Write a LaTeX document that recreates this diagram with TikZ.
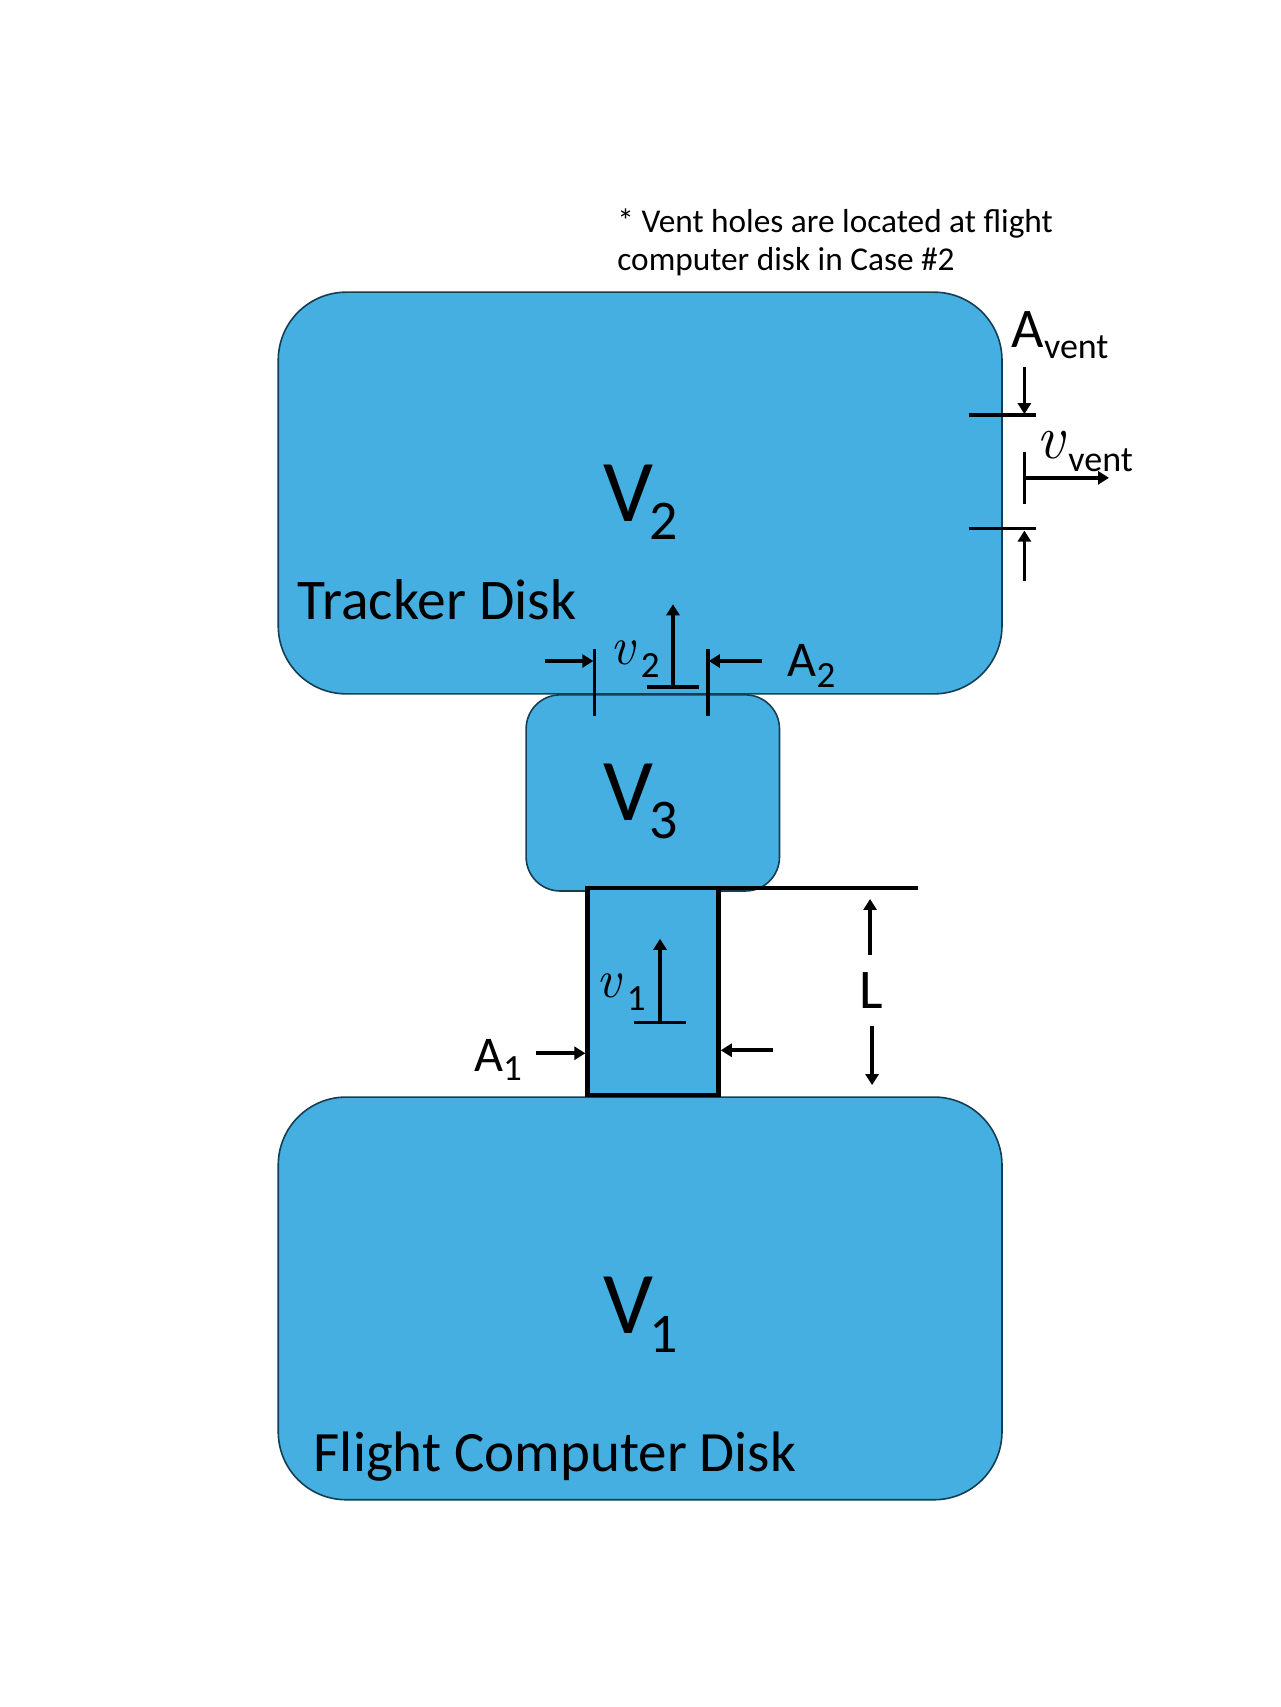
\documentclass[tikz,border=0pt]{standalone}
\usepackage{fontspec}
\setmainfont{Carlito}
\usetikzlibrary{arrows.meta}
\definecolor{diskblue}{HTML}{45AFE1}
\definecolor{diskedge}{HTML}{153E54}
\newcommand{\subtext}[3]{\raisebox{#1}{\fontsize{#2}{#2}\selectfont #3}}
\newcommand{\vsym}[1]{{\fontfamily{lmr}\fontshape{it}\fontsize{#1}{#1}\selectfont v}}
\tikzset{
  diskbox/.style={draw=diskedge,fill=diskblue,line width=1.6pt},
  dimline/.style={line width=3.6pt,line cap=butt},
  dimarrow/.style={line width=3.6pt,line cap=butt,-{Triangle[length=11pt,width=13pt]}},
  lbl/.style={inner sep=0pt,anchor=base west,text=black},
}
\begin{document}
\begin{tikzpicture}[x=0.9955pt,y=-0.9955pt]
\useasboundingbox (0,0) rectangle (1285.8,1714.7);
\fill[white] (0,0) rectangle (1285.8,1714.7);
% disks
\draw[diskbox,rounded corners=68pt] (279.5,293.5) rectangle (1006.5,697);
\draw[diskbox,rounded corners=68pt] (279.5,1102) rectangle (1006.5,1506.5);
\draw[diskbox,rounded corners=34pt] (528.5,698) rectangle (783,895);
\draw[diskbox,draw=black,line width=4.6pt] (590,892) rectangle (722,1100);
% length line
\draw[line width=3.6pt] (722,892) -- (922,892);
% vent
\draw[dimline]
    (973,417) -- (1041,417)
    (973,531) -- (1041,531)
    (1029,454) -- (1029,506);
\draw[dimarrow] (1029,369) -- (1029,416);
\draw[dimarrow] (1029,584) -- (1029,533);
\draw[dimarrow] (1029,480) -- (1114,480);
% neck
\draw[dimline]
    (597,652) -- (597,719)
    (711,652) -- (711,719)
    (650,690) -- (702,690);
\draw[dimarrow] (547,664) -- (596,664);
\draw[dimarrow] (765,664) -- (712,664);
\draw[dimarrow] (676,690) -- (676,607);
% tube
\draw[dimline] (637,1027) -- (689,1027);
\draw[dimarrow] (663,1027) -- (663,943);
\draw[dimarrow] (538,1058) -- (588,1058);
\draw[dimarrow] (776,1055) -- (724,1055);
\draw[dimarrow] (874,959) -- (874,903);
\draw[dimarrow] (876,1031) -- (876,1090);
% texts
\node[lbl,font=\fontsize{33.3}{38}\selectfont,align=left] (note) at (620,272)
    {* Vent holes are located at flight\\computer disk in Case \#2};
\node[lbl,font=\fontsize{57.5}{58}\selectfont] (tracker) at (299,622) {Tracker Disk};
\node[lbl,font=\fontsize{57}{58}\selectfont] (flight) at (315,1478) {Flight Computer Disk};
\node[lbl,font=\fontsize{88}{88}\selectfont] (vtwo) at (606,524) {V\kern-4pt\subtext{-18pt}{56}{2}};
\node[lbl,font=\fontsize{88}{88}\selectfont] (vthree) at (606,824) {V\kern-4pt\subtext{-18pt}{56}{3}};
\node[lbl,font=\fontsize{88}{88}\selectfont] (vone) at (606,1340) {V\kern-4pt\subtext{-19pt}{56}{1}};
\node[lbl,font=\fontsize{56}{56}\selectfont] (avent) at (1016,349) {A\subtext{-11pt}{36}{vent}};
\node[lbl,font=\fontsize{50}{50}\selectfont] (atwo) at (791,680) {A\subtext{-11pt}{37}{2}};
\node[lbl,font=\fontsize{50}{50}\selectfont] (aone) at (476,1076) {A\subtext{-9pt}{37}{1}};
\node[lbl,font=\fontsize{56}{56}\selectfont] (lenl) at (863,1013) {L};
\node[lbl,font=\fontsize{48}{48}\selectfont] (vvent) at (1041,461) {\vsym{62}\kern4pt\subtext{-13pt}{36}{vent}};
\node[lbl,font=\fontsize{48}{48}\selectfont] (vrtwo) at (613,667) {\vsym{54}\kern6pt\subtext{-13pt}{37}{2}};
\node[lbl,font=\fontsize{48}{48}\selectfont] (vrone) at (599,1002) {\vsym{54}\kern6pt\subtext{-13pt}{37}{1}};
\end{tikzpicture}
\end{document}
